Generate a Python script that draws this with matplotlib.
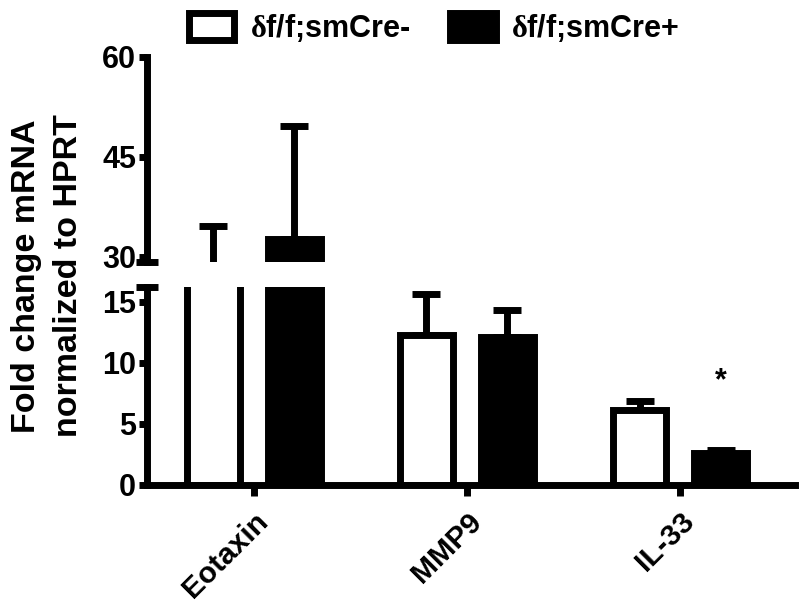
import numpy as np
import matplotlib.pyplot as plt
from matplotlib.patches import Patch

plt.rcParams['font.family'] = ['Liberation Sans', 'DejaVu Sans']
plt.rcParams['font.weight'] = 'bold'
plt.rcParams['mathtext.fontset'] = 'custom'
plt.rcParams['mathtext.rm'] = 'Liberation Serif'

# data
genes = ["Eotaxin", "MMP9", "IL-33"]
cre_neg = [25.0, 12.3, 6.1]
cre_neg_err = [9.6, 3.3, 0.8]
cre_pos = [32.7, 12.1, 2.6]
cre_pos_err = [16.9, 2.2, 0.3]
labels = ["$\\mathrm{\\delta}$f/f;smCre-", "$\\mathrm{\\delta}$f/f;smCre+"]

lw = 5
x = np.arange(len(genes))
off = 0.19
w = 0.25

fig = plt.figure(figsize=(8, 6.16), dpi=100)
ax_top = fig.add_axes([0.184, 0.575, 0.81, 0.3325])
ax_bot = fig.add_axes([0.184, 0.2127, 0.81, 0.3213])

for ax in (ax_top, ax_bot):
    ax.bar(x - off, cre_neg, w, color="white", edgecolor="black", linewidth=lw, zorder=2)
    ax.bar(x + off, cre_pos, w, color="black", edgecolor="black", linewidth=lw, zorder=2)
    ax.errorbar(x - off, cre_neg, yerr=[np.zeros(3), cre_neg_err], fmt="none",
                ecolor="black", elinewidth=lw, capsize=10, capthick=lw, zorder=1)
    ax.errorbar(x + off, cre_pos, yerr=[np.zeros(3), cre_pos_err], fmt="none",
                ecolor="black", elinewidth=lw, capsize=10, capthick=lw, zorder=1)
    ax.set_xlim(-0.5, 2.54)
    for s in ["top", "right"]:
        ax.spines[s].set_visible(False)
    ax.spines["left"].set_linewidth(lw)
    ax.tick_params(axis="y", length=6, width=lw, labelsize=22, pad=2)

ax_top.set_ylim(29.25, 60)
ax_top.set_yticks([30, 45, 60])
ax_top.spines["bottom"].set_visible(False)
ax_top.set_xticks([])
ax_top.plot([-0.017, 0.017], [0, 0], transform=ax_top.transAxes, color="black",
            lw=lw, clip_on=False, solid_capstyle="butt")

ax_bot.set_ylim(0, 16.2)
ax_bot.set_yticks([0, 5, 10, 15])
ax_bot.spines["bottom"].set_linewidth(lw)
ax_bot.set_xticks(x)
ax_bot.set_xticklabels(genes, rotation=45, ha="right", rotation_mode="anchor", fontsize=21.5)
ax_bot.tick_params(axis="x", length=8, width=lw, pad=8)
ax_bot.plot([-0.017, 0.017], [1, 1], transform=ax_bot.transAxes, color="black",
            lw=lw, clip_on=False, solid_capstyle="butt")

# significance
ax_bot.text(x[2] + off, 8.5, "*", ha="center", va="center", fontsize=22)

fig.text(0.059, 1 - 276 / 616, "Fold change mRNA\nnormalized to HPRT", rotation=90,
         ha="center", va="center", fontsize=24.5, linespacing=1.45, multialignment="center")

handles = [Patch(facecolor="white", edgecolor="black", linewidth=lw),
           Patch(facecolor="black", edgecolor="black", linewidth=lw)]
fig.legend(handles, labels, loc="center", bbox_to_anchor=(434 / 800, 1 - 28 / 616), ncol=2,
           frameon=False, fontsize=22, handlelength=1.5, handleheight=1.0,
           handletextpad=0.5, columnspacing=1.3)

fig.savefig("out.png", dpi=100)
